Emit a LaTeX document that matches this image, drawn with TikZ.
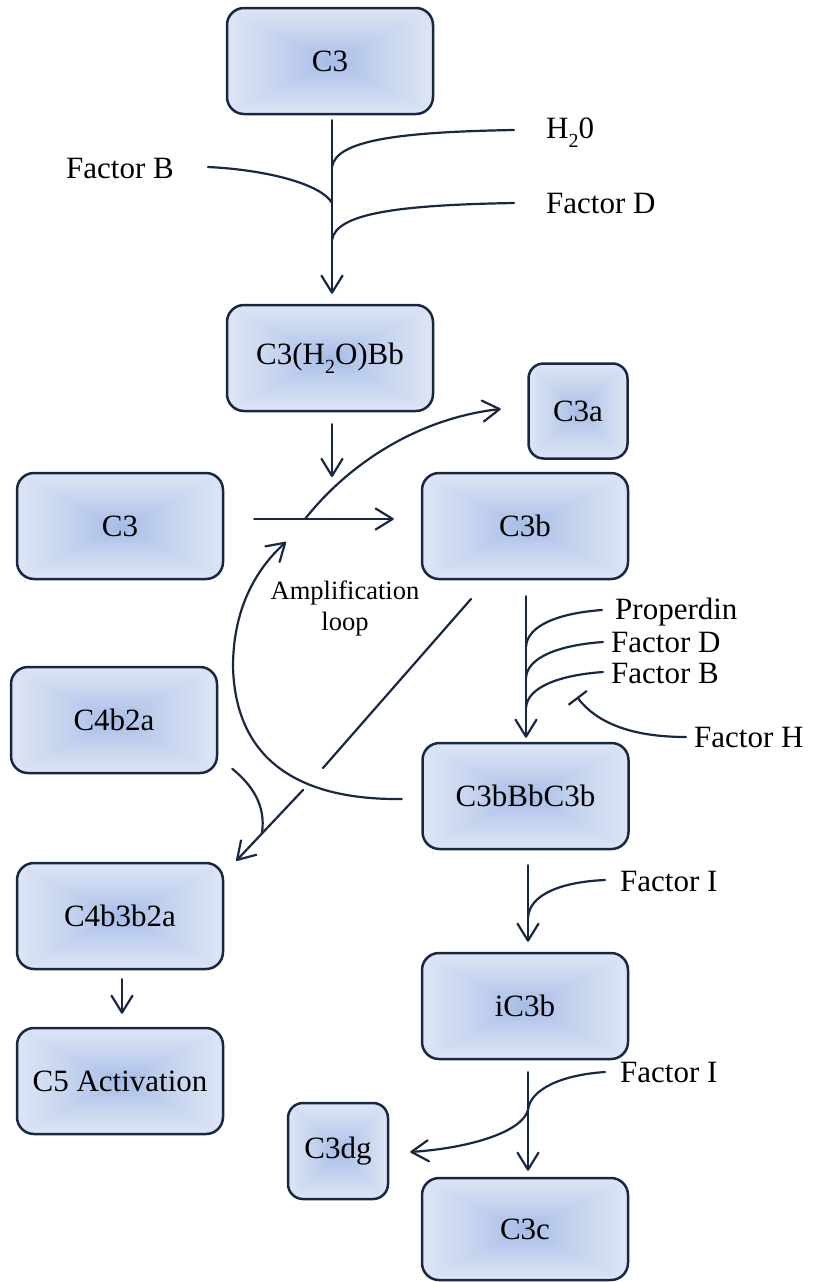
\documentclass[tikz,border=0pt]{standalone}
\usepackage{fontspec}
\setmainfont{Liberation Serif}
\usetikzlibrary{arrows.meta,calc}

\definecolor{ink}{RGB}{24,40,66}
\newcommand\boxfont{\fontsize{31}{37}\selectfont}
\newcommand\loopfont{\fontsize{26.5}{31}\selectfont}
\newcommand\lowsub[1]{\raisebox{-9pt}{\fontsize{20}{20}\selectfont #1}}

% rectangular glow: darker blue in the middle, pale at the rim
% (the path's bounding box covers the central 50bp of the 100bp square)
\pgfdeclarefunctionalshading{boxglow}{\pgfpoint{0bp}{0bp}}{\pgfpoint{100bp}{100bp}}{}{
  50 sub abs exch 50 sub abs 2 copy sub abs 3 1 roll add add 50 div
  dup 1 sub abs neg add 1 add 2 div 0.8 exp
  dup dup 0.23 mul 0.64 add 3 1 roll 0.17 mul 0.73 add exch 0.06 mul 0.90 add
}

\tikzset{
  box/.style={draw=ink, line width=2.5pt, rounded corners=17pt, shade, shading=boxglow,
    minimum width=206pt, minimum height=106pt, inner sep=2pt, font=\boxfont, text=black},
  smallbox/.style={box, minimum width=99pt, minimum height=95pt, rounded corners=15pt},
  conn/.style={draw=ink, line width=2.2pt, line cap=round},
  arr/.style={conn, -{Straight Barb[length=17pt,width=21pt,line width=2.2pt,round]}},
  blocked/.style={conn, -{Bar[width=23pt,line width=2.2pt]}},
  lbl/.style={font=\boxfont, inner sep=0pt, anchor=base west, text=black},
}

\begin{document}
\begin{tikzpicture}[x=1pt, y=-1pt]
\useasboundingbox (0,0) rectangle (814,1282);

% ---- complexes ----
\node[box] (c3top) at (330,61) {C3};
\node[box] (c3h) at (330,358) {C3(H\lowsub{2}O)Bb};
\node[smallbox] (c3a) at (578,411) {C3a};
\node[box] (c3l) at (120,526) {C3};
\node[box] (c3b) at (525,526) {C3b};
\node[box] (c4b2a) at (114,720) {C4b2a};
\node[box] (c3bbb) at (525.5,796) {C3bBbC3b};
\node[box] (c4b3b2a) at (120,916) {C4b3b2a};
\node[box] (ic3b) at (525,1006) {iC3b};
\node[box] (c5) at (120,1081) {C5 Activation};
\node[smallbox, minimum width=100pt, minimum height=96pt] (c3dg) at (338,1151) {C3dg};
\node[box, minimum height=102pt] (c3c) at (525,1229) {C3c};

% ---- factor labels ----
\node[lbl] (lh2o) at (546,138) {H\lowsub{2}0};
\node[lbl] (lfb1) at (66,178) {Factor B};
\node[lbl] (lfd1) at (546,213) {Factor D};
\node[lbl] (lprop) at (615,619) {Properdin};
\node[lbl] (lfd2) at (611,652) {Factor D};
\node[lbl] (lfb2) at (611,683) {Factor B};
\node[lbl] (lfh) at (694,747) {Factor H};
\node[lbl] (lfi1) at (620,891) {Factor I};
\node[lbl] (lfi2) at (620,1082) {Factor I};
\node[font=\loopfont, align=center, inner sep=0pt, anchor=base, text=black] (amp) at (345,630) {Amplification\\loop};

% ---- free ends and junctions ----
\coordinate (inH2O) at (514,130);
\coordinate (inFB1) at (208,167);
\coordinate (inFD1) at (514,203);
\coordinate (j1) at (332,167);
\coordinate (j2) at (332,203);
\coordinate (j3) at (332,240);
\coordinate (rtop) at (332,477);
\coordinate (rj) at (305,519);
\coordinate (loopTip) at (286,542);
\coordinate (d0) at (471,599);
\coordinate (d1) at (323,768);
\coordinate (d2) at (303,790);
\coordinate (dm) at (262,833);
\coordinate (inP) at (602,610);
\coordinate (jP) at (526,647);
\coordinate (inFD2) at (603,642);
\coordinate (jD) at (526,678);
\coordinate (inFB2) at (603,672);
\coordinate (jB) at (526,708);
\coordinate (inFH) at (686,737);
\coordinate (hEnd) at (577,697);
\coordinate (inFI1) at (605,880);
\coordinate (jI1) at (528,918);
\coordinate (inFI2) at (605,1072);
\coordinate (jI2) at (528,1110);

% ---- tick-over of C3 ----
\draw[arr] ([xshift=2pt,yshift=-5pt]c3top.south) -- ([xshift=2pt,yshift=10pt]c3h.north);
\draw[conn] (inH2O) .. controls (400,132) and (336,140) .. (j1);
\draw[conn] (inFB1) .. controls (270,170) and (322,185) .. (j2);
\draw[conn] (inFD1) .. controls (400,205) and (336,213) .. (j3);

% ---- C3 convertase step ----
\draw[arr] ([xshift=2pt,yshift=-12pt]c3h.south) -- (rtop);
\draw[arr] ([xshift=30pt,yshift=7pt]c3l.east) -- ([xshift=-27pt,yshift=7pt]c3b.west);
\draw[arr] (rj) .. controls (350,462) and (420,418) .. ([xshift=-26.5pt,yshift=2pt]c3a.west);

% ---- amplification loop ----
\draw[arr] ([xshift=-19.5pt,yshift=-3pt]c3bbb.west) .. controls (320,800) and (236,775) .. (233,667)
  .. controls (233,610) and (255,570) .. (loopTip);

% ---- C3b joins C4b2a ----
\draw[conn] (d0) -- (d1);
\draw[arr] (d2) -- ([xshift=12pt,yshift=1pt]c4b3b2a.north east);
\draw[conn] ([xshift=14pt,yshift=5.5pt]c4b2a.south east) .. controls (252,785) and (266,805) .. (dm);

% ---- alternative C3 convertase ----
\draw[arr] ([xshift=1pt,yshift=-16pt]c3b.south) -- ([xshift=0.5pt,yshift=4pt]c3bbb.north);
\draw[conn] (inP) .. controls (560,613) and (527,625) .. (jP);
\draw[conn] (inFD2) .. controls (560,645) and (527,657) .. (jD);
\draw[conn] (inFB2) .. controls (560,675) and (527,687) .. (jB);
\draw[blocked] (inFH) .. controls (630,737) and (596,722) .. (hEnd);

% ---- inactivation by factor I ----
\draw[arr] ([xshift=2.5pt,yshift=-15pt]c3bbb.south) -- ([xshift=3pt,yshift=10pt]ic3b.north);
\draw[conn] (inFI1) .. controls (560,882) and (529,895) .. (jI1);
\draw[arr] ([xshift=3pt,yshift=-12pt]ic3b.south) -- ([xshift=3pt,yshift=6pt]c3c.north);
\draw[arr] (inFI2) .. controls (560,1075) and (530,1090) .. (jI2)
  .. controls (522,1132) and (470,1148) .. ([xshift=21pt,yshift=-1pt]c3dg.east);

% ---- terminal pathway ----
\draw[arr] ([xshift=2pt,yshift=-9pt]c4b3b2a.south) -- ([xshift=2pt,yshift=13pt]c5.north);
\end{tikzpicture}
\end{document}
